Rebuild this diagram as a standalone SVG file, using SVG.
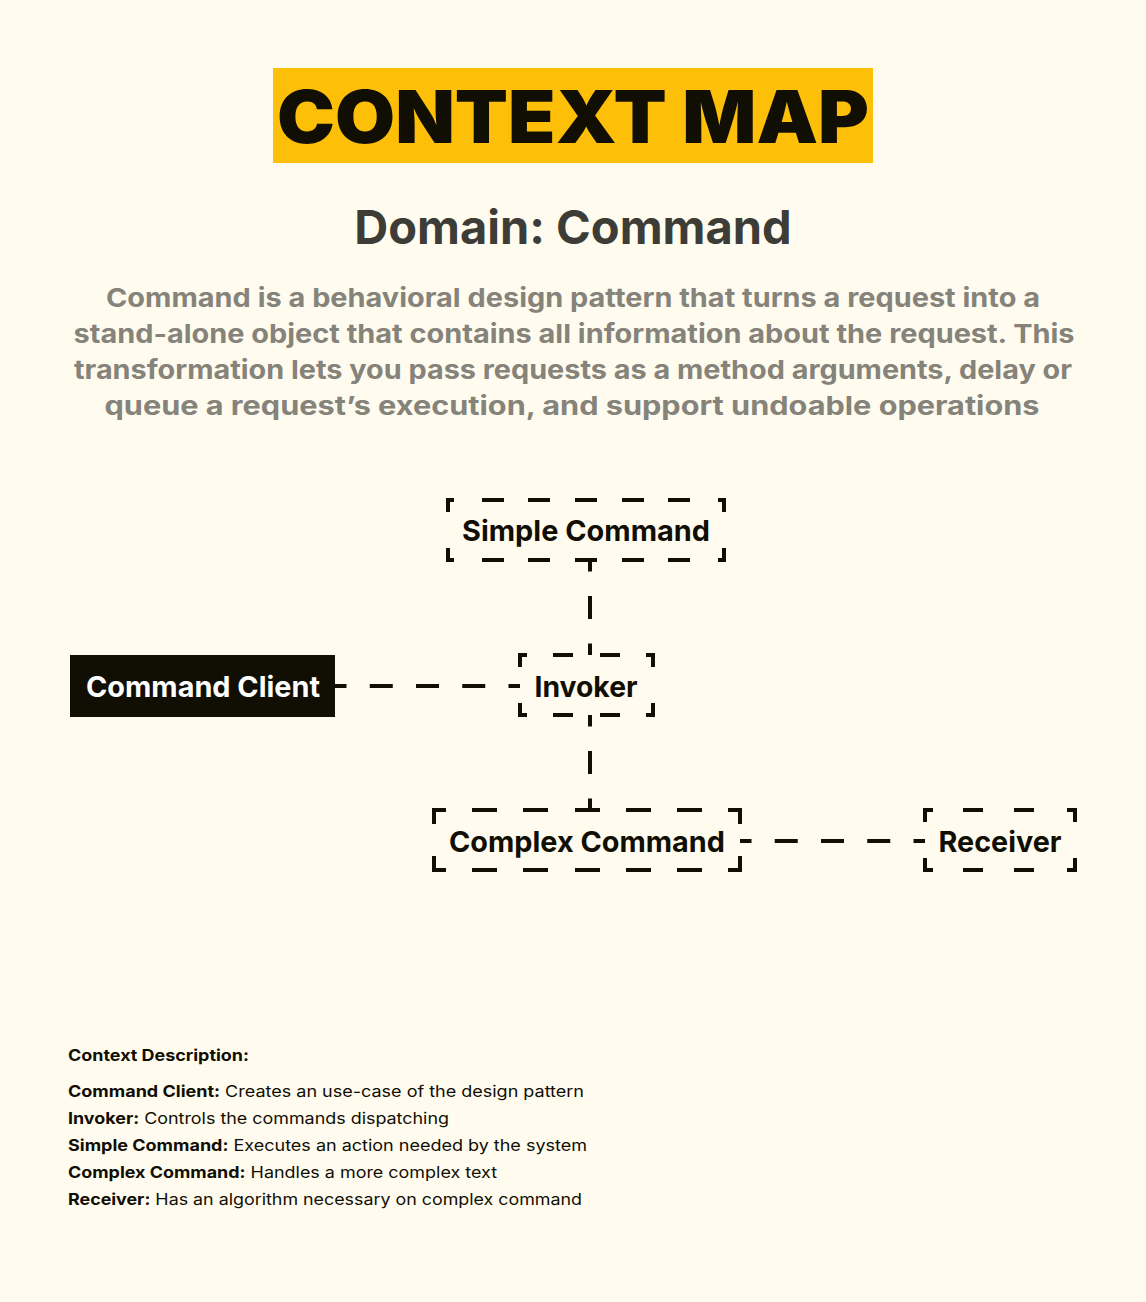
<svg xmlns="http://www.w3.org/2000/svg" width="1146" height="1302" viewBox="0 0 1146 1302">
<style>
  .bg{fill:#fffcef}
  .bd{fill:none;stroke:#110e04;stroke-width:4;stroke-linejoin:miter;stroke-linecap:butt}
  .cv{fill:none;stroke:#110e04;stroke-width:4;stroke-dasharray:23 24.5;stroke-dashoffset:11.5}
  .ch{fill:none;stroke:#110e04;stroke-width:4;stroke-dasharray:23 23.25;stroke-dashoffset:11.5}
  .lbl{font-family:Inter,"Liberation Sans",sans-serif;font-weight:700;font-size:29px;fill:#110e04;text-anchor:middle}
  .desc{font-family:Inter,"Liberation Sans",sans-serif;font-weight:700;font-size:26px;fill:#85837a;text-anchor:middle}
  .leg{font-family:Inter,"Liberation Sans",sans-serif;font-size:16px;fill:#110e04}
  .b{font-weight:700}
</style>
<rect class="bg" x="0" y="0" width="1146" height="1302"/>
<g id="title">
  <rect x="273" y="68" width="600" height="95" fill="#fdbf08"/>
  <text x="573" y="143" font-family="Inter,'Liberation Sans',sans-serif" font-weight="900" font-size="73" fill="#110e04" text-anchor="middle" textLength="592" lengthAdjust="spacingAndGlyphs">CONTEXT MAP</text>
</g>
<g id="subtitle">
  <text x="573" y="244" font-family="Inter,'Liberation Sans',sans-serif" font-weight="700" font-size="47" fill="#3d3c36" text-anchor="middle">Domain: Command</text>
</g>
<g id="description">
  <text class="desc" x="573" y="307" textLength="934" lengthAdjust="spacingAndGlyphs">Command is a behavioral design pattern that turns a request into a</text>
  <text class="desc" x="574" y="343" textLength="1001" lengthAdjust="spacingAndGlyphs">stand-alone object that contains all information about the request. This</text>
  <text class="desc" x="573" y="379" textLength="998" lengthAdjust="spacingAndGlyphs">transformation lets you pass requests as a method arguments, delay or</text>
  <text class="desc" x="572" y="415" textLength="935" lengthAdjust="spacingAndGlyphs">queue a request’s execution, and support undoable operations</text>
</g>
<g id="connectors">
  <line class="cv" x1="590" y1="560" x2="590" y2="655"/>
  <line class="ch" x1="335" y1="686" x2="520" y2="686"/>
  <line class="cv" x1="590" y1="715" x2="590" y2="810"/>
  <line class="ch" x1="740" y1="841" x2="925" y2="841"/>
</g>
<g id="simple-command">
  <path class="bd" d="M448 512V500H454M718 500H724V512M724 548V560H718M454 560H448V548
    M482 500h22M528 500h22M575 500h22M622 500h22M668 500h22
    M482 560h22M528 560h22M575 560h22M622 560h22M668 560h22"/>
  <text class="lbl" x="586" y="541" textLength="248" lengthAdjust="spacingAndGlyphs">Simple Command</text>
</g>
<g id="command-client">
  <rect x="70" y="655" width="265" height="62" fill="#110e04"/>
  <text class="lbl" x="203" y="697" style="fill:#ffffff" textLength="234" lengthAdjust="spacingAndGlyphs">Command Client</text>
</g>
<g id="invoker">
  <path class="bd" d="M520 667V655H527M646 655H653V667M653 703V715H646M527 715H520V703
    M553 655h20M600 655h20M553 715h20M600 715h20"/>
  <text class="lbl" x="586" y="697" textLength="103" lengthAdjust="spacingAndGlyphs">Invoker</text>
</g>
<g id="complex-command">
  <path class="bd" d="M434 824V810H446M728 810H740V824M740 856V870H728M446 870H434V856
    M472 810h25M523 810h25M575 810h25M626 810h25M677 810h25
    M472 870h25M523 870h25M575 870h25M626 870h25M677 870h25"/>
  <text class="lbl" x="587" y="852" textLength="276" lengthAdjust="spacingAndGlyphs">Complex Command</text>
</g>
<g id="receiver">
  <path class="bd" d="M925 822V810H933M1067 810H1075V822M1075 858V870H1067M933 870H925V858
    M963 810h20M1014 810h20M963 870h20M1014 870h20"/>
  <text class="lbl" x="1000" y="852" textLength="123" lengthAdjust="spacingAndGlyphs">Receiver</text>
</g>
<g id="legend">
  <text class="leg b" x="68" y="1061" textLength="181" lengthAdjust="spacingAndGlyphs">Context Description:</text>
  <text class="leg" x="68" y="1097" textLength="516" lengthAdjust="spacingAndGlyphs"><tspan class="b">Command Client:</tspan> Creates an use-case of the design pattern</text>
  <text class="leg" x="68" y="1124" textLength="381" lengthAdjust="spacingAndGlyphs"><tspan class="b">Invoker:</tspan> Controls the commands dispatching</text>
  <text class="leg" x="68" y="1151" textLength="519" lengthAdjust="spacingAndGlyphs"><tspan class="b">Simple Command:</tspan> Executes an action needed by the system</text>
  <text class="leg" x="68" y="1178" textLength="429" lengthAdjust="spacingAndGlyphs"><tspan class="b">Complex Command:</tspan> Handles a more complex text</text>
  <text class="leg" x="68" y="1205" textLength="514" lengthAdjust="spacingAndGlyphs"><tspan class="b">Receiver:</tspan> Has an algorithm necessary on complex command</text>
</g>
</svg>
